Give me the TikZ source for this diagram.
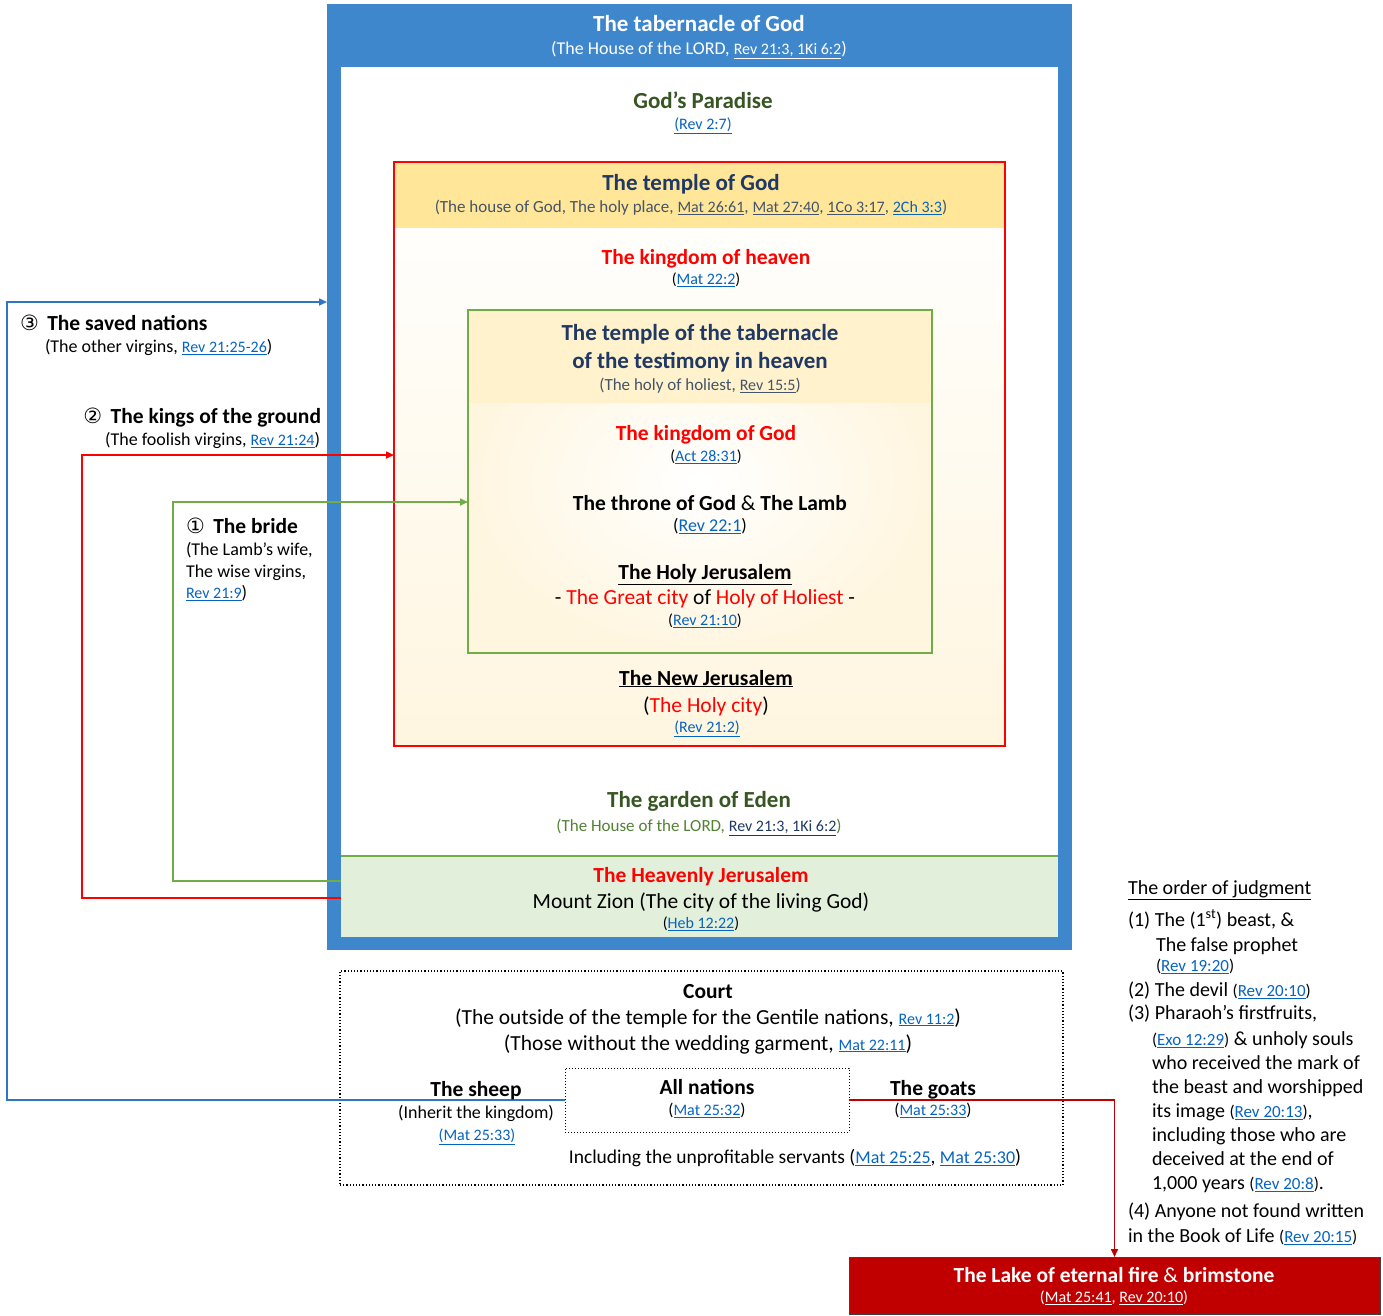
\documentclass[tikz,border=0pt]{standalone}
\usepackage{fontspec}
\setmainfont{Carlito}
\newfontfamily\dvs{DejaVu Sans}
\usetikzlibrary{arrows.meta,calc}
\definecolor{tblue}{HTML}{3F87CD}
\definecolor{cblue}{HTML}{2E75C6}
\definecolor{lblue}{HTML}{0563C1}
\definecolor{dgreen}{HTML}{375623}
\definecolor{mgreen}{HTML}{548235}
\definecolor{navy}{HTML}{1F3864}
\definecolor{slate}{HTML}{44546A}
\definecolor{tyellow}{HTML}{FFE699}
\definecolor{lyellow}{HTML}{FFF2CC}
\definecolor{cream}{HTML}{FFF6E0}
\definecolor{lgreen}{HTML}{E2EFDA}
\definecolor{bred}{HTML}{FF0000}
\definecolor{dred}{HTML}{C00000}
\definecolor{gline}{HTML}{70AD47}
\newcommand\lk[2][16]{{\fontsize{#1}{#1}\selectfont\color{lblue}\underline{#2}}}
\newcommand\lkc[3][16]{{\fontsize{#1}{#1}\selectfont\color{#2}\underline{#3}}}
\newcommand\cnum[1]{{\dvs\mdseries\fontsize{21}{21}\selectfont #1}}
\newcommand\sm[1]{{\fontsize{17}{17}\selectfont #1}}
\begin{document}
\begin{tikzpicture}[x=1pt,y=-1pt,
  every node/.style={inner sep=0pt,outer sep=0pt},
  box/.style={anchor=north west,inner sep=0pt,outer sep=0pt},
  t23/.style={font=\fontsize{23}{27}\selectfont\bfseries,text height=15pt,text depth=0pt},
  t21/.style={font=\fontsize{21.5}{25}\selectfont\bfseries,text height=14pt,text depth=0pt},
  r16/.style={font=\fontsize{16}{19}\selectfont,text height=10.4pt,text depth=0pt},
  r17/.style={font=\fontsize{17}{20}\selectfont,text height=11pt,text depth=0pt},
  r18/.style={font=\fontsize{18}{21}\selectfont,text height=11.7pt,text depth=0pt},
  r19/.style={font=\fontsize{19.5}{23}\selectfont,text height=12.6pt,text depth=0pt},
  r20/.style={font=\fontsize{20}{24}\selectfont,text height=13pt,text depth=0pt},
  r21/.style={font=\fontsize{21.5}{25}\selectfont,text height=14pt,text depth=0pt},
  conn/.style={line width=1.6pt,-{Triangle[length=8pt,width=7pt]}},
  ord/.style={r20,anchor=west}]
\useasboundingbox (0,0) rectangle (1383,1315);
% ---------- boxes ----------
\node[box,fill=tblue,minimum width=745,minimum height=946] (tab) at (327,4) {};
\node[box,fill=white,minimum width=717,minimum height=870] (inner) at (341,67) {};
\node[box,fill=lgreen,minimum width=717,minimum height=81] (heav) at (341,856) {};
\draw[gline,line width=1.2pt] (heav.north west) -- (heav.north east);
\node[box,top color=white,bottom color=cream,minimum width=611,minimum height=584] (temple) at (394,162) {};
\fill[tyellow] (temple.north west) rectangle ($(temple.north east)+(0,66)$);
\draw[bred,line width=1.6pt] (temple.north west) rectangle (temple.south east);
\node[box,inner color=white,outer color=cream,minimum width=464,minimum height=343] (gbox) at (468,310) {};
\fill[lyellow] (gbox.north west) rectangle ($(gbox.north east)+(0,93)$);
\draw[gline,line width=1.8pt] (gbox.north west) rectangle (gbox.south east);
\node[box,draw,dotted,line width=1.2pt,minimum width=723,minimum height=214] (court) at (340,971) {};
\node[box,draw,dotted,line width=1pt,minimum width=284,minimum height=64] (alln) at (565,1068) {};
\node[box,fill=dred,draw=black!75,line width=1pt,minimum width=531,minimum height=57] (lake) at (849,1257) {};
% ---------- connectors ----------
\coordinate (bc) at (7,302);
\coordinate (tabin) at (327,302);
\coordinate (rs) at (341,898);
\coordinate (rc) at (82,455);
\coordinate (gs) at (341,881);
\coordinate (gc) at (173,502);
\draw[conn,cblue] (alln.west) -| (bc) -- (tabin);
\draw[conn,bred] (rs) -| (rc) -- (temple.west |- rc);
\draw[conn,gline] (gs) -| (gc) -- (gbox.west |- gc);
\draw[conn,dred] (alln.east) -| (lake.north);
% ---------- texts in the tabernacle ----------
\node[t23,white] (tabT) at (699,24) {The tabernacle of God};
\node[r18,white] (tabS) at (699,49) {(The House of the LORD, \lkc{white}{Rev 21:3, 1Ki 6:2})};
\node[t23,dgreen] (parT) at (703,101) {God’s Paradise};
\node[r16] (parS) at (703,124) {\lk{(Rev 2:7}\lk{)}};
\node[t23,navy] (tmpT) at (691,183) {The temple of God};
\node[r17,slate] (tmpS) at (691,207) {(The house of God, The holy place, \lkc{slate}{Mat 26:61}, \lkc{slate}{Mat 27:40}, \lkc{slate}{1Co 3:17}, \lk{2Ch 3:3})};
\node[t21,bred] (koh) at (706,257) {The kingdom of heaven};
\node[r16] (kohS) at (706,279) {(\lk{Mat 22:2})};
\node[t23,navy] (ttT1) at (700,333) {The temple of the tabernacle};
\node[t23,navy] (ttT2) at (700,361) {of the testimony in heaven};
\node[r17,slate] (ttS) at (700,385) {(The holy of holiest, \lkc{slate}{Rev 15:5})};
\node[t21,bred] (kog) at (706,433) {The kingdom of God};
\node[r16] (kogS) at (706,456) {(\lk{Act 28:31})};
\node[t21] (thr) at (710,503) {The throne of God {\mdseries\&} The Lamb};
\node[r18] (thrS) at (710,526) {(\lk[18]{Rev 22:1})};
\node[t21] (hj) at (705,572) {\underline{The Holy Jerusalem}};
\node[r21] (hjS) at (705,597) {- \textcolor{bred}{The Great city} of \textcolor{bred}{Holy of Holiest} -};
\node[r16] (hjR) at (705,620) {(\lk{Rev 21:10})};
\node[t21] (nj) at (706,678) {\underline{The New Jerusalem}};
\node[r21] (njS) at (706,705) {(\textcolor{bred}{The Holy city})};
\node[r16] (njR) at (707,727) {\lk{(Rev 21:2)}};
\node[t23,dgreen] (ge) at (699,800) {The garden of Eden};
\node[r17,mgreen] (geS) at (699,826) {(The House of the LORD, \lkc{navy}{Rev 21:3, 1Ki 6:2})};
\node[t21,bred] (hv) at (701,875) {The Heavenly Jerusalem};
\node[r21] (hvS) at (701,901) {Mount Zion (The city of the living God)};
\node[r16] (hvR) at (701,923) {(\lk{Heb 12:22})};
% ---------- left labels ----------
\node[t21,anchor=west] (saved) at (20,323) {\cnum{③}\, The saved nations};
\node[r18,anchor=west] (savedS) at (45,347) {(The other virgins, \lk{Rev 21:25-26})};
\node[t21,anchor=east] (kings) at (321,416) {\cnum{②}\, The kings of the ground};
\node[r18,anchor=east] (kingsS) at (320,440) {(The foolish virgins, \lk{Rev 21:24})};
\node[t21,anchor=west] (bride) at (186,526) {\cnum{①}\, The bride};
\node[r18,anchor=west] (b1) at (186,550) {(The Lamb’s wife,};
\node[r18,anchor=west] (b2) at (186,572) {The wise virgins,};
\node[r18,anchor=west] (b3) at (186,593) {\lk{Rev 21:9})};
% ---------- court ----------
\node[t21] (courtT) at (708,991) {Court};
\node[r21] (c1) at (708,1017) {(The outside of the temple for the Gentile nations, \lk{Rev 11:2})};
\node[r21] (c2) at (708,1043) {(Those without the wedding garment, \lk{Mat 22:11})};
\node[t21] (sheep) at (476,1089) {The sheep};
\node[r18] (sheepS) at (476,1113) {(Inherit the kingdom)};
\node[r17] (sheepR) at (477,1135) {\lk{(Mat 25:33}\lk{)}};
\node[t21] (allnT) at (707,1087) {All nations};
\node[r17] (allnS) at (707,1110) {(\lk{Mat 25:32})};
\node[t21] (goats) at (933,1088) {The goats};
\node[r17] (goatsS) at (933,1110) {(\lk{Mat 25:33})};
\node[r19] (incl) at (795,1157) {Including the unprofitable servants (\lk[18]{Mat 25:25}, \lk[18]{Mat 25:30})};
% ---------- order of judgment ----------
\node[ord] (oj) at (1128,888) {\underline{The order of judgment}};
\node[ord] (o1) at (1128,920) {(1) The (1\textsuperscript{st}) beast, \&};
\node[ord] (o1b) at (1156,945) {The false prophet};
\node[r17,anchor=west] (o1c) at (1156,966) {(\lk[17]{Rev 19:20})};
\node[ord] (o2) at (1128,990) {(2) The devil \sm{(\lk[17]{Rev 20:10})}};
\node[ord] (o3) at (1128,1013) {(3) Pharaoh’s firstfruits,};
\node[ord] (o3b) at (1152,1039) {\sm{(\lk[17]{Exo 12:29})} \& unholy souls};
\node[ord] (o3c) at (1152,1063) {who received the mark of};
\node[ord] (o3d) at (1152,1087) {the beast and worshipped};
\node[ord] (o3e) at (1152,1111) {its image \sm{(\lk[17]{Rev 20:13})},};
\node[ord] (o3f) at (1152,1135) {including those who are};
\node[ord] (o3g) at (1152,1159) {deceived at the end of};
\node[ord] (o3h) at (1152,1183) {1,000 years \sm{(\lk[17]{Rev 20:8})}.};
\node[ord] (o4) at (1128,1211) {(4) Anyone not found written};
\node[ord] (o4b) at (1128,1236) {in the Book of Life \sm{(\lk[17]{Rev 20:15})}};
% ---------- lake ----------
\node[t21,white] (lakeT) at (1114,1275) {The Lake of eternal fire {\mdseries\&} brimstone};
\node[r16,white] (lakeS) at (1114,1297) {(\lkc{white}{Mat 25:41}, \lkc{white}{Rev 20:10})};
\end{tikzpicture}
\end{document}
